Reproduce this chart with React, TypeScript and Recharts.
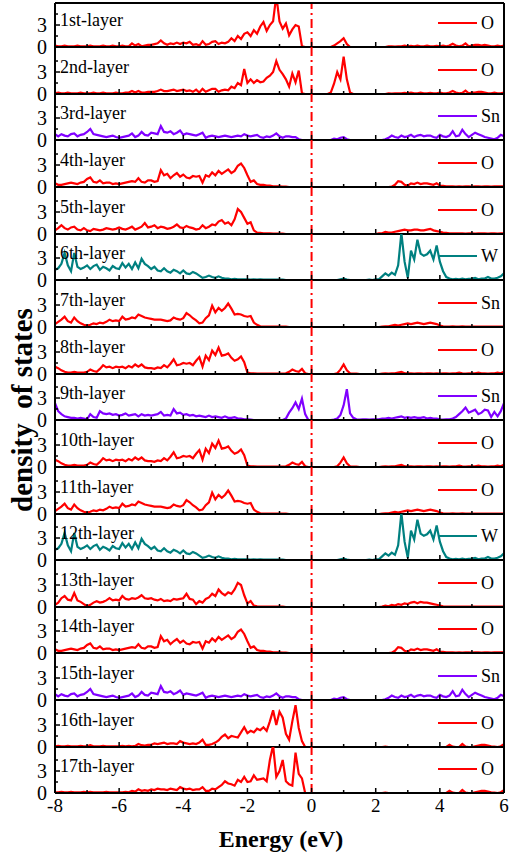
import { LineChart, Line, XAxis, YAxis, ReferenceLine } from 'recharts';

// energy grid, -8 .. 6 eV in 0.1 eV steps
const energy = Array.from({ length: 141 }, (_, i) => Math.round((-8 + i * 0.1) * 10) / 10);

const xTicks = [-8, -7, -6, -5, -4, -3, -2, -1, 0, 1, 2, 3, 4, 5, 6];
const yTicks = [0, 1.5, 3, 4.5];

// DOS per layer (one row = 1 eV)
const layer1 = [
  0.2, 0.1, 0.1, 0.2, 0.1, 0.1, 0.1, 0.2, 0.1, 0.1,
  0.1, 0.2, 0.1, 0.1, 0.1, 0.2, 0.1, 0.1, 0.2, 0.1,
  0.1, 0.2, 0.1, 0.1, 0.5, 0.2, 0.4, 0.1, 0.2, 0.3,
  0.3, 0.4, 0.5, 0.9, 0.5, 0.3, 0.5, 0.4, 0.6, 0.4,
  0.6, 0.5, 0.7, 0.3, 0.4, 0.2, 0.8, 0.3, 0.4, 0.7,
  0.8, 0.4, 0.6, 0.5, 0.7, 1.2, 0.8, 1.5, 1.1, 1.8,
  2.0, 1.5, 2.3, 1.8, 2.8, 3.4, 2.2, 3.0, 3.5, 7.0,
  3.5, 2.5, 3.2, 1.6, 2.4, 3.0, 2.8, 0.1, 0, 0,
  0, 0, 0, 0, 0, 0, 0, 0.2, 0.5, 0.8,
  1.2, 0.4, 0, 0, 0, 0, 0, 0, 0, 0,
  0, 0, 0, 0, 0.1, 0.1, 0.05, 0.1, 0.1, 0.2,
  0.1, 0.15, 0.1, 0.2, 0.1, 0.1, 0.2, 0.1, 0.1, 0.15,
  0.1, 0.2, 0.1, 0.2, 0.45, 0.2, 0.1, 0.2, 0.5, 0.1,
  0.2, 0.3, 0.3, 0.2, 0.3, 0.2, 0.1, 0.1, 0.2, 0.1,
  0.2,
];

const layer2 = [
  0.1, 0.2, 0.1, 0.1, 0.2, 0.1, 0.1, 0.1, 0.2, 0.1,
  0.1, 0.1, 0.2, 0.1, 0.1, 0.2, 0.1, 0.1, 0.1, 0.2,
  0.1, 0.1, 0.2, 0.2, 0.4, 0.2, 0.4, 0.2, 0.2, 0.3,
  0.3, 0.3, 0.4, 0.6, 0.4, 0.4, 0.5, 0.6, 0.4, 0.5,
  0.6, 0.4, 0.5, 0.3, 0.6, 0.2, 0.7, 0.3, 0.5, 0.7,
  0.7, 0.3, 0.5, 0.6, 0.5, 1.0, 0.8, 1.5, 1.2, 3.4,
  1.5, 2.0, 1.5, 1.9, 1.6, 1.7, 2.2, 2.5, 3.0, 4.5,
  3.3, 2.7, 2.0, 1.0, 2.8, 1.6, 3.2, 0.1, 0, 0,
  0, 0, 0, 0, 0, 0, 0.2, 1.4, 3.0, 2.0,
  5.1, 2.0, 0.2, 0, 0, 0, 0, 0, 0, 0,
  0, 0, 0, 0, 0.1, 0.05, 0.1, 0.1, 0.1, 0.15,
  0.1, 0.2, 0.1, 0.1, 0.2, 0.1, 0.1, 0.15, 0.1, 0.1,
  0.2, 0.1, 0.1, 0.2, 0.4, 0.2, 0.1, 0.15, 0.45, 0.1,
  0.2, 0.2, 0.3, 0.3, 0.2, 0.1, 0.1, 0.2, 0.1, 0.1,
  0.2,
];

// 3rd and 15th layers look the same
const layer3 = [
  0.8, 0.5, 0.8, 0.6, 0.5, 0.8, 0.9, 0.5, 0.7, 0.8,
  1.1, 1.5, 0.8, 0.7, 0.6, 0.5, 0.4, 0.5, 0.6, 0.4,
  0.3, 0.4, 0.5, 0.6, 0.9, 0.4, 0.6, 1.1, 0.7, 0.6,
  1.0, 0.9, 0.8, 1.9, 1.1, 1.0, 1.2, 0.8, 1.0, 1.3,
  0.7, 0.9, 0.8, 0.7, 0.6, 0.8, 1.0, 0.3, 0.5, 0.6,
  0.5, 0.4, 0.5, 0.6, 0.5, 0.4, 0.5, 0.6, 0.5, 0.8,
  0.6, 0.5, 0.6, 0.7, 0.4, 0.3, 0.5, 0.4, 0.6, 0.9,
  0.5, 0.3, 0.5, 0.5, 0.4, 0.4, 0.1, 0, 0, 0,
  0, 0, 0, 0, 0, 0, 0, 0.2, 0.1, 0.3,
  0.4, 0.1, 0, 0, 0, 0, 0, 0, 0, 0,
  0, 0, 0, 0.1, 0.3, 0.6, 0.4, 0.3, 0.6, 0.4,
  0.5, 0.7, 0.4, 0.6, 0.7, 0.5, 0.6, 0.6, 0.4, 0.3,
  0.7, 0.5, 0.4, 0.6, 1.2, 0.5, 0.6, 1.4, 0.8, 0.4,
  0.7, 1.0, 0.8, 0.6, 0.4, 0.3, 0.2, 0.1, 0.3, 0.7,
  0.5,
];

// 4th and 14th
const layer4 = [
  0.5, 0.3, 0.3, 0.4, 0.5, 0.6, 0.5, 0.4, 0.6, 0.7,
  1.1, 1.3, 0.7, 0.6, 0.9, 0.5, 0.6, 0.6, 0.4, 0.5,
  0.4, 0.5, 0.6, 0.7, 0.8, 0.7, 1.2, 0.7, 0.6, 0.9,
  0.9, 0.7, 0.8, 2.3, 1.6, 1.8, 1.2, 1.6, 1.9, 1.4,
  1.7, 1.3, 1.2, 1.5, 1.4, 1.5, 0.6, 1.6, 1.4, 2.0,
  1.6, 2.2, 1.8, 2.1, 2.4, 1.9, 2.2, 2.9, 3.2, 2.6,
  1.6, 0.7, 0.9, 0.4, 0.3, 0.3, 0.2, 0.2, 0.1, 0.1,
  0.1, 0.05, 0.05, 0, 0, 0, 0, 0, 0, 0,
  0, 0, 0, 0, 0, 0, 0, 0, 0, 0,
  0, 0, 0, 0, 0, 0, 0, 0, 0, 0,
  0, 0, 0, 0, 0, 0.05, 0.3, 0.8, 0.7, 0.3,
  0.2, 0.5, 0.4, 0.6, 0.4, 0.5, 0.5, 0.4, 0.3, 0.5,
  0.2, 0.15, 0.1, 0.1, 0.1, 0.05, 0.1, 0.05, 0.1, 0.1,
  0.05, 0.1, 0.1, 0.05, 0.1, 0.1, 0.05, 0.1, 0.1, 0.1,
  0.1,
];

const layer5 = [
  0.5, 0.8, 1.2, 0.8, 0.6, 0.9, 1.0, 0.6, 0.5, 0.8,
  0.5, 0.4, 0.7, 0.6, 0.5, 0.6, 0.8, 0.7, 0.6, 0.7,
  0.9, 0.7, 0.6, 0.8, 1.0, 0.6, 0.8, 1.0, 1.5, 0.9,
  1.0, 1.2, 0.8, 1.0, 0.9, 0.7, 0.8, 1.0, 1.3, 0.9,
  0.8, 1.1, 0.9, 0.8, 0.6, 0.7, 1.2, 0.8, 1.0, 1.3,
  1.2, 1.7, 1.9, 1.4, 1.6, 1.2, 2.0, 3.4, 3.0, 2.2,
  1.4, 1.6, 0.5, 0.2, 0.15, 0.1, 0.1, 0.1, 0.05, 0.05,
  0.05, 0.05, 0, 0, 0, 0, 0, 0, 0, 0,
  0, 0, 0, 0, 0, 0, 0, 0, 0, 0,
  0, 0, 0, 0, 0, 0, 0, 0, 0, 0,
  0, 0.1, 0.1, 0.3, 0.2, 0.2, 0.3, 0.4, 0.5, 0.6,
  0.5, 0.5, 0.6, 0.6, 0.5, 0.5, 0.6, 0.7, 0.5, 0.4,
  0.3, 0.2, 0.15, 0.1, 0.1, 0.1, 0.1, 0.1, 0.05, 0.1,
  0.1, 0.05, 0.1, 0.1, 0.1, 0.05, 0.1, 0.1, 0.05, 0.1,
  0.1,
];

// 6th and 12th (W)
const layer6 = [
  1.4, 1.6, 2.2, 3.7, 2.0, 1.2, 3.7, 1.8, 1.5, 1.7,
  2.0, 1.5, 1.9, 2.1, 1.4, 1.8, 1.6, 1.3, 1.9, 1.6,
  1.5, 2.3, 1.7, 2.2, 1.5, 2.4, 1.6, 2.9, 2.2, 1.9,
  1.5, 1.8, 1.3, 1.2, 1.6, 1.2, 1.0, 1.4, 1.2, 0.9,
  1.3, 0.9, 0.8, 1.1, 0.9, 0.6, 0.3, 0.4, 0.6, 0.4,
  0.3, 0.5, 0.3, 0.2, 0.2, 0.1, 0.15, 0.1, 0.1, 0.1,
  0.1, 0.05, 0.1, 0.05, 0.1, 0.05, 0.05, 0.05, 0.05, 0.05,
  0.05, 0.05, 0, 0, 0, 0, 0, 0, 0, 0,
  0, 0, 0, 0, 0, 0, 0, 0, 0, 0.1,
  0.2, 0.05, 0, 0, 0, 0, 0, 0, 0.05, 0,
  0.1, 0.1, 0.5, 0.9, 0.6, 1.0, 0.7, 2.0, 6.4, 2.5,
  0.3, 4.0, 2.8, 5.5, 3.6, 3.3, 3.5, 4.0, 2.8, 4.7,
  2.5, 1.2, 0.4, 0.2, 0.1, 0.15, 0.1, 0.2, 0.1, 0.15,
  0.2, 0.3, 0.1, 0.2, 0.2, 0.4, 0.2, 0.2, 0.3, 0.5,
  0.9,
];

// 7th and 11th
const layer7 = [
  0.4, 0.7, 1.0, 1.4, 0.8, 0.6, 1.3, 0.8, 0.5, 0.3,
  0.2, 0.3, 0.5, 0.4, 0.6, 0.5, 0.7, 1.0, 0.8, 0.9,
  0.8, 1.4, 1.0, 1.1, 1.3, 1.2, 1.7, 1.5, 1.3, 1.2,
  1.1, 1.0, 1.0, 1.0, 0.9, 0.8, 0.9, 1.3, 1.1, 1.0,
  1.2, 1.9, 1.6, 1.2, 0.9, 0.5, 0.6, 1.2, 1.6, 2.9,
  2.0, 2.6, 2.2, 2.6, 3.2, 2.5, 1.7, 1.8, 1.7, 1.5,
  1.4, 1.5, 0.6, 0.3, 0.1, 0.05, 0.05, 0.05, 0.05, 0.05,
  0.05, 0.05, 0.05, 0, 0, 0, 0, 0, 0, 0,
  0, 0, 0, 0, 0, 0, 0, 0, 0, 0,
  0, 0, 0, 0, 0, 0, 0, 0, 0, 0,
  0, 0, 0.05, 0.1, 0.1, 0.2, 0.3, 0.2, 0.3, 0.4,
  0.5, 0.4, 0.5, 0.6, 0.5, 0.4, 0.5, 0.6, 0.5, 0.4,
  0.2, 0.1, 0.05, 0.05, 0.1, 0.05, 0.05, 0.1, 0.05, 0.05,
  0.05, 0.05, 0.05, 0.05, 0.05, 0.05, 0.05, 0.05, 0.05, 0.05,
  0.05,
];

// 8th and 10th
const layer8 = [
  1.0, 0.8, 0.5, 0.3, 0.2, 0.2, 0.3, 0.2, 0.2, 0.2,
  0.3, 0.6, 0.4, 0.3, 0.7, 1.2, 0.9, 1.0, 0.8, 1.0,
  0.9, 1.0, 0.8, 1.1, 0.9, 1.3, 1.0, 1.3, 0.9, 0.8,
  0.8, 0.7, 0.9, 0.8, 1.2, 0.9, 1.4, 2.0, 1.2, 1.3,
  1.5, 1.4, 1.5, 1.2, 1.8, 2.3, 1.0, 2.5, 1.9, 3.2,
  2.6, 3.6, 2.5, 2.6, 2.8, 2.2, 1.8, 2.0, 2.4, 1.6,
  0.2, 0.1, 0.1, 0.05, 0.05, 0.05, 0.05, 0.05, 0.05, 0.05,
  0.05, 0.05, 0.1, 0.3, 0.6, 0.4, 0.3, 0.7, 0.1, 0,
  0, 0, 0, 0, 0, 0, 0, 0, 0.1, 0.6,
  1.3, 0.5, 0.1, 0.05, 0.05, 0, 0, 0, 0, 0,
  0, 0, 0.05, 0.1, 0.05, 0.1, 0.1, 0.2, 0.3, 0.1,
  0.1, 0.1, 0.05, 0.1, 0.1, 0.05, 0.1, 0.1, 0.05, 0.1,
  0.05, 0.1, 0.1, 0.05, 0.1, 0.1, 0.2, 0.1, 0.05, 0.1,
  0.1, 0.1, 0.2, 0.1, 0.1, 0.05, 0.1, 0.1, 0.2, 0.1,
  0.3,
];

const layer9 = [
  2.3, 1.2, 0.8, 0.5, 0.4, 0.3, 0.3, 0.2, 0.3, 0.2,
  0.1, 0.8, 0.4, 0.3, 1.2, 0.9, 0.8, 0.9, 0.7, 0.8,
  0.6, 0.7, 0.9, 0.6, 0.7, 0.8, 0.5, 0.8, 0.6, 0.7,
  0.6, 0.7, 0.8, 1.1, 0.6, 0.7, 0.6, 1.5, 0.9, 1.0,
  0.7, 0.8, 0.6, 0.7, 0.5, 0.6, 0.5, 0.4, 0.6, 0.4,
  0.5, 0.4, 0.3, 0.5, 0.3, 0.3, 0.4, 0.2, 0.2, 0.1,
  0.1, 0.05, 0, 0, 0, 0, 0, 0, 0, 0,
  0, 0, 0.2, 1.0, 1.6, 2.4, 1.5, 2.9, 0.8, 0,
  0, 0, 0, 0, 0, 0, 0, 0.05, 0.2, 0.7,
  2.0, 4.2, 0.9, 0.3, 0.1, 0.05, 0.1, 0.1, 0.05, 0.1,
  0.1, 0.1, 0.2, 0.2, 0.3, 0.2, 0.3, 0.4, 0.5, 0.3,
  0.4, 0.3, 0.4, 0.3, 0.3, 0.4, 0.2, 0.3, 0.2, 0.2,
  0.1, 0.05, 0.1, 0.1, 0.2, 0.4, 0.8, 1.2, 1.7, 1.0,
  1.2, 1.4, 0.8, 1.0, 1.4, 1.3, 0.4, 1.1, 0.5, 1.2,
  2.3,
];

const layer13 = [
  0.3, 0.6, 1.2, 1.5, 1.0, 0.9, 1.9, 0.9, 0.7, 0.4,
  0.1, 0.3, 0.6, 0.8, 0.6, 0.7, 0.9, 1.2, 0.9, 1.0,
  0.9, 1.5, 1.1, 1.0, 1.2, 1.1, 1.3, 1.6, 1.2, 1.1,
  1.2, 1.0, 0.9, 1.1, 0.8, 0.9, 0.8, 1.1, 1.0, 1.1,
  1.2, 1.8, 1.1, 1.0, 0.4, 0.8, 0.6, 1.1, 1.3, 1.8,
  1.5, 2.4, 1.9, 1.6, 2.0, 1.8, 2.4, 3.3, 3.0, 1.6,
  0.5, 0.8, 0.2, 0.1, 0.05, 0.05, 0.05, 0.05, 0.05, 0.05,
  0.05, 0.05, 0, 0, 0, 0, 0, 0, 0, 0,
  0, 0, 0, 0, 0, 0, 0, 0, 0, 0,
  0, 0, 0, 0, 0, 0, 0, 0, 0, 0,
  0, 0, 0.05, 0.2, 0.1, 0.3, 0.2, 0.4, 0.3, 0.5,
  0.4, 0.6, 0.7, 0.5, 0.7, 0.6, 0.6, 0.5, 0.4, 0.3,
  0.2, 0.1, 0.05, 0.05, 0.05, 0.05, 0.05, 0.05, 0.05, 0.05,
  0.05, 0.05, 0.05, 0.05, 0.05, 0.05, 0.05, 0.05, 0.05, 0.05,
  0.05,
];

const layer16 = [
  0.1, 0.15, 0.1, 0.1, 0.15, 0.1, 0.1, 0.1, 0.15, 0.1,
  0.1, 0.25, 0.1, 0.1, 0.1, 0.15, 0.1, 0.1, 0.1, 0.1,
  0.1, 0.15, 0.1, 0.15, 0.1, 0.15, 0.4, 0.25, 0.2, 0.3,
  0.3, 0.5, 0.4, 0.5, 0.6, 0.4, 0.5, 0.5, 0.4, 0.8,
  0.6, 0.5, 0.4, 0.5, 0.4, 0.6, 1.0, 0.3, 0.3, 0.4,
  0.6, 0.9, 1.4, 1.7, 1.2, 1.5, 1.4, 1.3, 2.0, 2.7,
  1.9, 2.2, 2.0, 2.5, 2.3, 2.7, 2.2, 3.5, 5.0, 3.0,
  4.8, 4.0, 1.8, 1.0, 3.5, 5.7, 2.6, 0.8, 0, 0,
  0, 0, 0, 0, 0, 0, 0, 0, 0, 0,
  0, 0, 0, 0, 0, 0, 0, 0, 0, 0,
  0, 0, 0, 0.05, 0, 0, 0, 0, 0, 0,
  0, 0, 0, 0, 0, 0, 0, 0, 0, 0,
  0, 0, 0, 0.3, 0.05, 0, 0, 0.4, 0.05, 0,
  0, 0.1, 0.2, 0.3, 0.3, 0.2, 0.1, 0.05, 0, 0.1,
  0.4,
];

const layer17 = [
  0.1, 0.1, 0.15, 0.1, 0.1, 0.15, 0.1, 0.1, 0.1, 0.15,
  0.1, 0.15, 0.1, 0.1, 0.1, 0.1, 0.15, 0.1, 0.1, 0.1,
  0.1, 0.1, 0.15, 0.1, 0.3, 0.2, 0.5, 0.3, 0.4, 0.3,
  0.5, 0.4, 0.6, 0.5, 0.5, 0.4, 0.6, 0.5, 0.4, 0.8,
  0.6, 0.5, 0.6, 0.4, 0.5, 0.5, 0.8, 0.3, 0.3, 0.6,
  0.5, 0.8, 1.1, 1.6, 1.3, 1.2, 1.0, 1.8, 1.5, 2.2,
  1.5, 1.6, 2.4, 1.8, 1.9, 2.0, 1.6, 4.5, 6.5, 2.2,
  3.0, 4.5, 1.6, 1.2, 1.0, 5.5, 2.6, 2.0, 0, 0,
  0, 0, 0, 0, 0, 0, 0, 0, 0, 0,
  0, 0, 0, 0, 0, 0, 0, 0, 0, 0,
  0, 0, 0, 0.05, 0, 0, 0, 0, 0, 0,
  0, 0, 0, 0, 0, 0, 0, 0, 0, 0,
  0, 0, 0, 0.3, 0.05, 0, 0, 0.4, 0.05, 0,
  0, 0.1, 0.2, 0.3, 0.3, 0.2, 0.1, 0.05, 0, 0.1,
  0.4,
];

const RED = '#ff0000';
const PURPLE = '#8000ff';
const TEAL = '#008080';

const layerNames = [
  '1st-layer', '2nd-layer', '3rd-layer', '4th-layer', '5th-layer', '6th-layer',
  '7th-layer', '8th-layer', '9th-layer', '10th-layer', '11th-layer', '12th-layer',
  '13th-layer', '14th-layer', '15th-layer', '16th-layer', '17th-layer',
];
const elements = ['O', 'O', 'Sn', 'O', 'O', 'W', 'Sn', 'O', 'Sn', 'O', 'O', 'W', 'O', 'O', 'Sn', 'O', 'O'];
const colors = [RED, RED, PURPLE, RED, RED, TEAL, RED, RED, PURPLE, RED, RED, TEAL, RED, RED, PURPLE, RED, RED];
const series = [
  layer1, layer2, layer3, layer4, layer5, layer6, layer7, layer8, layer9,
  layer8, layer7, layer6, layer13, layer4, layer3, layer16, layer17,
];

const FONT = "'Liberation Serif', 'Times New Roman', serif";
const LEFT = 55;
const RIGHT = 504;
const TOP = 3;
const PX_PER_UNIT = 7.33;
const baseline = (i: number) => Math.round(47 + i * 46.65);

const YTick = (props: any) => {
  const { x, y, payload } = props;
  const v = payload.value;
  const major = v === 0 || v === 3;
  return (
    <g>
      <line x1={x} x2={x + (major ? 5 : 3)} y1={y} y2={y} stroke="#000" strokeWidth={1.5} />
      {major && (
        <text x={x - 8} y={y} dy="0.35em" textAnchor="end" fontFamily={FONT} fontSize={20} fill="#000">
          {v}
        </text>
      )}
    </g>
  );
};

const XTick = (props: any) => {
  const { x, y, payload, showLabel } = props;
  const v = payload.value;
  const major = v % 2 === 0;
  return (
    <g>
      <line x1={x} x2={x} y1={y} y2={y - (major ? 5 : 3)} stroke="#000" strokeWidth={1.5} />
      {showLabel && major && (
        <text x={x} y={y + 6} dy="0.71em" textAnchor="middle" fontFamily={FONT} fontSize={19} fill="#000">
          {v}
        </text>
      )}
    </g>
  );
};

const Panel = ({ index }: { index: number }) => {
  const top = index === 0 ? TOP : baseline(index - 1);
  const h = baseline(index) - top;
  const last = index === series.length - 1;
  // room below the plot so the "0" label is not cut; the last panel also holds the x labels
  const axisH = last ? 45 : 12;
  const values = series[index];
  const data = energy.map((e, i) => ({ e, v: values[i] }));
  return (
    <div style={{ position: 'absolute', left: 0, top, width: 510, height: h + axisH }}>
      <LineChart width={510} height={h + axisH} data={data} margin={{ top: 0, right: 510 - RIGHT, bottom: 0, left: 0 }}>
        <XAxis
          type="number"
          dataKey="e"
          domain={[-8, 6]}
          ticks={xTicks}
          interval={0}
          height={axisH}
          tickSize={0}
          tickMargin={0}
          tickLine={false}
          axisLine={{ stroke: '#000', strokeWidth: 2 }}
          tick={<XTick showLabel={last} />}
        />
        <YAxis
          type="number"
          domain={[0, h / PX_PER_UNIT]}
          ticks={yTicks}
          interval={0}
          width={LEFT}
          tickSize={0}
          tickMargin={0}
          tickLine={false}
          allowDataOverflow
          axisLine={{ stroke: '#000', strokeWidth: 2 }}
          tick={<YTick />}
        />
        <ReferenceLine x={0} stroke={RED} strokeWidth={2} strokeDasharray="9 4 2 4" />
        <Line
          type="linear"
          dataKey="v"
          name={elements[index]}
          stroke={colors[index]}
          strokeWidth={2.2}
          dot={false}
          isAnimationActive={false}
        />
      </LineChart>
    </div>
  );
};

const App = () => {
  return (
    <div style={{ position: 'absolute', left: 0, top: 0, width: 510, height: 860, background: '#fff' }}>
      {series.map((_, i) => (
        <Panel key={layerNames[i]} index={i} />
      ))}
      <svg width={510} height={860} style={{ position: 'absolute', left: 0, top: 0, pointerEvents: 'none' }}>
        <line x1={LEFT} x2={RIGHT} y1={TOP} y2={TOP} stroke="#000" strokeWidth={2} />
        <line x1={RIGHT} x2={RIGHT} y1={TOP} y2={baseline(16)} stroke="#000" strokeWidth={2} />
        {layerNames.map((name, i) => {
          const b = baseline(i);
          return (
            <g key={name} fontFamily={FONT} fill="#000">
              <text x={60} y={b - 27} dy="0.35em" fontSize={18}>
                {name}
              </text>
              <line x1={438} x2={477} y1={b - 24} y2={b - 24} stroke={colors[i]} strokeWidth={2} />
              <text x={481} y={b - 24} dy="0.35em" fontSize={18}>
                {elements[i]}
              </text>
            </g>
          );
        })}
        <text
          x={281}
          y={847}
          textAnchor="middle"
          fontFamily={FONT}
          fontWeight="bold"
          fontSize={24}
          fill="#000"
        >
          Energy (eV)
        </text>
        <text
          transform="translate(32, 410) rotate(-90)"
          textAnchor="middle"
          fontFamily={FONT}
          fontWeight="bold"
          fontSize={29}
          fill="#000"
          xmlSpace="preserve"
          style={{ whiteSpace: 'pre' }}
        >
          density  of states
        </text>
      </svg>
    </div>
  );
};

export default App;
